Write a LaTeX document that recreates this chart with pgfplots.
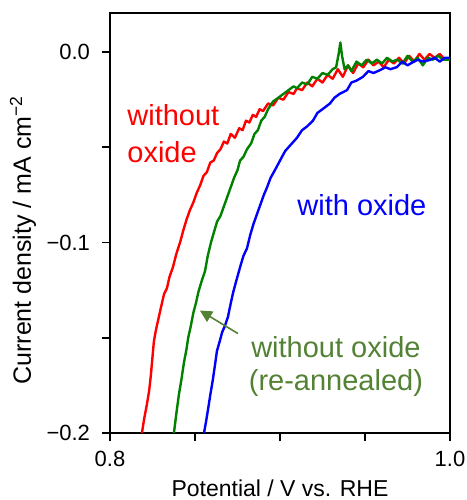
\documentclass[border=0pt]{standalone}
\usepackage{fontspec}
\setmainfont{Liberation Sans}
\usepackage{pgfplots}
\pgfplotsset{compat=1.18}
\usetikzlibrary{arrows.meta}
\definecolor{cred}{RGB}{255,0,0}
\definecolor{cgreen}{RGB}{0,130,0}
\definecolor{cblue}{RGB}{0,0,255}
\definecolor{anngreen}{RGB}{84,130,53}
\begin{document}
\begin{tikzpicture}
\useasboundingbox (-55pt,-33.5pt) rectangle (178.5pt,216.5pt);
\begin{axis}[
  at={(0,0)}, anchor=south west,
  scale only axis, width=170pt, height=210pt,
  xmin=0.8, xmax=1.0, ymin=-0.2, ymax=0.0205,
  axis line style={line width=0.9pt},
  tick align=outside, major tick length=4pt,
  tick style={line width=0.8pt, black},
  tick pos=left,
  xtick={0.8,0.85,0.9,0.95,1.0}, xticklabels={0.8,,,,1.0},
  ytick={-0.2,-0.15,-0.1,-0.05,0}, yticklabels={−0.2,,−0.1,,0.0},
  tick label style={font=\fontsize{11}{13}\selectfont},
  xticklabel style={yshift=-1.5pt},
  yticklabel style={xshift=-2.5pt},
  xlabel={Potential / V vs. RHE},
  ylabel={Current density / mA cm\textsuperscript{−2}},
  xlabel style={font=\fontsize{11.5}{13}\selectfont, at={(axis description cs:0.5,-0.131)}, anchor=center},
  ylabel style={font=\fontsize{12.5}{14}\selectfont, at={(axis description cs:-0.256,0.4595)}, anchor=center},
  clip=true,
  every axis plot/.append style={line width=1.2pt, line join=round, no markers},
]
\addplot[cred] coordinates {
(0.8188,-0.200) (0.8200,-0.193) (0.8215,-0.186) (0.8230,-0.178) (0.8240,-0.170)
(0.8250,-0.160) (0.8258,-0.152) (0.8270,-0.146) (0.8285,-0.140) (0.8300,-0.134)
(0.8318,-0.127) (0.8335,-0.124) (0.8350,-0.118) (0.8370,-0.113) (0.8390,-0.106)
(0.8412,-0.100) (0.8430,-0.094) (0.8450,-0.088) (0.8470,-0.083) (0.8490,-0.079)
(0.8510,-0.074) (0.8530,-0.070) (0.8550,-0.065) (0.8570,-0.063) (0.8590,-0.058)
(0.8610,-0.057) (0.8630,-0.053) (0.8650,-0.051) (0.8670,-0.047) (0.8690,-0.048)
(0.8710,-0.043) (0.8735,-0.045) (0.8760,-0.040) (0.8780,-0.041) (0.8800,-0.036)
(0.8820,-0.037) (0.8840,-0.033) (0.8860,-0.034) (0.8880,-0.030) (0.8900,-0.031)
(0.8930,-0.027) (0.8960,-0.028) (0.8990,-0.024) (0.9020,-0.025) (0.9050,-0.021)
(0.9080,-0.022) (0.9100,-0.019) (0.9130,-0.020) (0.9160,-0.016) (0.9190,-0.018)
(0.9220,-0.014) (0.9250,-0.016) (0.9280,-0.012) (0.9310,-0.014) (0.9340,-0.009)
(0.9370,-0.013) (0.9400,-0.007) (0.9430,-0.011) (0.9460,-0.006) (0.9490,-0.008)
(0.9520,-0.004) (0.9550,-0.007) (0.9580,-0.005) (0.9610,-0.008) (0.9640,-0.004)
(0.9670,-0.006) (0.9700,-0.003) (0.9730,-0.006) (0.9760,-0.002) (0.9790,-0.005)
(0.9820,-0.001) (0.9850,-0.004) (0.9880,-0.001) (0.9910,-0.003) (0.9940,-0.001)
(0.9970,-0.004) (1.0000,-0.003)
};
\addplot[cgreen] coordinates {
(0.8376,-0.200) (0.8390,-0.190) (0.8405,-0.180) (0.8420,-0.172) (0.8435,-0.163)
(0.8450,-0.156) (0.8460,-0.150) (0.8475,-0.144) (0.8490,-0.137) (0.8505,-0.132)
(0.8520,-0.126) (0.8540,-0.120) (0.8559,-0.115) (0.8575,-0.107) (0.8594,-0.100)
(0.8610,-0.095) (0.8630,-0.089) (0.8650,-0.086) (0.8670,-0.081) (0.8690,-0.076)
(0.8710,-0.071) (0.8730,-0.066) (0.8750,-0.062) (0.8765,-0.057) (0.8785,-0.055)
(0.8806,-0.051) (0.8830,-0.048) (0.8850,-0.043) (0.8870,-0.041) (0.8890,-0.036)
(0.8910,-0.034) (0.8930,-0.030) (0.8959,-0.026) (0.8990,-0.024) (0.9020,-0.022)
(0.9050,-0.020) (0.9080,-0.018) (0.9100,-0.019) (0.9130,-0.016) (0.9160,-0.017)
(0.9190,-0.013) (0.9220,-0.014) (0.9250,-0.011) (0.9280,-0.012) (0.9310,-0.009)
(0.9330,-0.008) (0.9345,-0.001) (0.9355,0.005) (0.9365,-0.002) (0.9380,-0.009)
(0.9400,-0.007) (0.9420,-0.010) (0.9450,-0.005) (0.9480,-0.007) (0.9510,-0.004)
(0.9540,-0.006) (0.9570,-0.004) (0.9600,-0.006) (0.9630,-0.003) (0.9660,-0.005)
(0.9690,-0.004) (0.9720,-0.006) (0.9750,-0.002) (0.9780,-0.005) (0.9810,-0.003)
(0.9840,-0.007) (0.9870,-0.003) (0.9900,-0.004) (0.9930,-0.002) (0.9960,-0.004)
(1.0000,-0.004)
};
\addplot[cblue] coordinates {
(0.8553,-0.200) (0.8565,-0.194) (0.8576,-0.188) (0.8590,-0.180) (0.8605,-0.172)
(0.8618,-0.164) (0.8629,-0.157) (0.8645,-0.152) (0.8660,-0.147) (0.8675,-0.144)
(0.8694,-0.139) (0.8710,-0.132) (0.8725,-0.126) (0.8740,-0.121) (0.8765,-0.113)
(0.8785,-0.107) (0.8806,-0.103) (0.8825,-0.096) (0.8845,-0.090) (0.8865,-0.085)
(0.8885,-0.080) (0.8905,-0.075) (0.8924,-0.071) (0.8945,-0.066) (0.8970,-0.062)
(0.9000,-0.057) (0.9030,-0.052) (0.9060,-0.049) (0.9100,-0.045) (0.9130,-0.041)
(0.9160,-0.039) (0.9194,-0.036) (0.9220,-0.032) (0.9250,-0.030) (0.9294,-0.027)
(0.9320,-0.024) (0.9350,-0.022) (0.9394,-0.020) (0.9420,-0.016) (0.9450,-0.015)
(0.9488,-0.013) (0.9520,-0.010) (0.9550,-0.011) (0.9588,-0.0095) (0.9620,-0.008)
(0.9650,-0.009) (0.9688,-0.0079) (0.9720,-0.005) (0.9750,-0.007) (0.9782,-0.0053)
(0.9810,-0.004) (0.9840,-0.005) (0.9880,-0.0042) (0.9910,-0.003) (0.9940,-0.005)
(0.9970,-0.003) (1.0000,-0.003)
};
\node[cred, anchor=west, align=left, inner sep=0pt,
      font=\fontsize{14.5}{18.5}\selectfont] at (axis cs:0.810,-0.0429) {without\\oxide};
\node[cblue, anchor=center, inner sep=0pt,
      font=\fontsize{14.5}{18}\selectfont] at (axis cs:0.9482,-0.0805) {with oxide};
\node[anngreen, anchor=center, align=center, inner sep=0pt,
      font=\fontsize{14.5}{16.5}\selectfont] at (axis cs:0.9329,-0.1652) {without oxide\\(re-annealed)};
\draw[anngreen, line width=0.8pt, -{Triangle[length=6pt,width=6pt]}]
  (axis cs:0.8753,-0.1478) -- (axis cs:0.8529,-0.1357);
\end{axis}
\end{tikzpicture}
\end{document}
